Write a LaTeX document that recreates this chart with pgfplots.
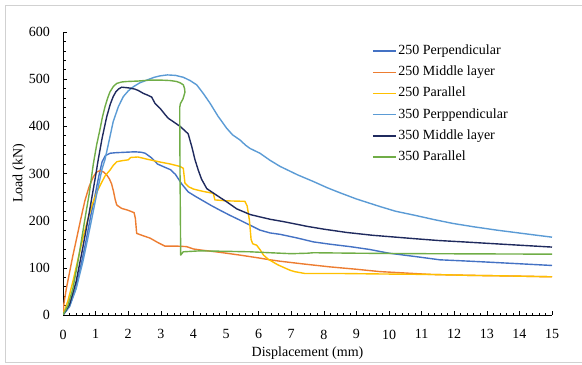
\documentclass[border=0pt]{standalone}
\usepackage{fontspec}
\setmainfont{Liberation Serif}
\usepackage{pgfplots}
\pgfplotsset{compat=1.18}
\definecolor{cBlue}{HTML}{4472C4}
\definecolor{cOrange}{HTML}{ED7D31}
\definecolor{cGold}{HTML}{FFC000}
\definecolor{cLight}{HTML}{5B9BD5}
\definecolor{cNavy}{HTML}{1F2A5E}
\definecolor{cGreen}{HTML}{70AD47}
\begin{document}
\fontsize{14bp}{16bp}\selectfont
\begin{tikzpicture}[font=\fontsize{14bp}{16bp}\selectfont]
\useasboundingbox (0,0) rectangle (582bp,365bp);
\draw[color=black!18, line width=0.8bp] (5.7bp,2.3bp) rectangle (620bp,359.3bp);
\begin{axis}[
  at={(63bp,50bp)}, anchor=south west, scale only axis,
  width=489bp, height=283bp,
  xmin=0, xmax=15, ymin=0, ymax=600,
  axis lines=left, axis line style={-, line width=0.8bp, black},
  xtick={0,1,...,15}, ytick={0,100,...,600},
  minor tick num=4, tick align=inside,
  major tick length=4bp, minor tick length=2.5bp,
  every tick/.style={black, line width=0.6bp},
  /pgf/number format/assume math mode=true,
  yticklabel style={inner sep=0pt, anchor=east, xshift=-13bp},
  xticklabel style={inner sep=0pt, anchor=north, yshift=-14.5bp},
  xlabel={Displacement (mm)}, ylabel={Load (kN)},
  every axis x label/.style={at={(axis description cs:0.5,0)}, anchor=center, yshift=-38bp},
  every axis y label/.style={at={(axis description cs:0,0.5)}, anchor=center, rotate=90, yshift=44bp},
  legend style={at={(axis description cs:0.632,0.954)}, anchor=north west, draw=none, fill=none,
    inner sep=0pt, outer sep=0pt, row sep=9.2bp, column sep=2bp,
    nodes={inner sep=0pt, text height=9.5bp, text depth=2.5bp}},
  legend cell align=left,
  legend image code/.code={\draw[#1] (0bp,0bp) -- (23bp,0bp);},
  every axis plot/.append style={line width=1.4bp, no marks, line join=round},
]
\addplot[cBlue] coordinates {(0,0)(0.2,18)(0.4,58)(0.55,105)(0.7,155)(0.85,210)(0.98,253)(1.1,295)(1.2,325)(1.3,338)(1.45,343)(1.6,344)(1.9,345)(2.2,346)(2.4,345)(2.52,343)(2.62,338)(2.72,333)(2.9,320)(3.13,313)(3.3,308)(3.45,298)(3.64,278)(3.84,261)(4.05,252)(4.3,242)(4.55,232)(4.82,222)(5.1,212)(5.43,201)(5.75,190)(6.04,180)(6.35,174)(6.66,171)(7.2,163)(7.68,155)(8.2,150)(8.8,145)(9.4,139)(10.0,131)(10.8,124)(11.56,117)(12.2,115)(12.79,113)(13.9,109)(15,105)};
\addlegendentry{250 Perpendicular}
\addplot[cOrange] coordinates {(0,0)(0.03,25)(0.1,55)(0.2,90)(0.3,125)(0.42,163)(0.55,205)(0.67,242)(0.8,272)(0.93,293)(1.03,303)(1.13,306)(1.25,303)(1.34,297)(1.42,289)(1.49,278)(1.55,262)(1.6,245)(1.65,233)(1.8,226)(2.0,222)(2.18,217)(2.22,205)(2.26,173)(2.46,168)(2.67,163)(2.9,154)(3.13,146)(3.5,146)(3.79,145)(4.0,140)(4.2,138)(4.8,133)(5.43,127)(6.0,121)(6.35,117)(6.66,114)(7.4,108)(8.19,102)(9.0,97)(9.72,92)(10.5,89)(11.26,86)(12.5,84)(13.5,83)(15,81)};
\addlegendentry{250 Middle layer}
\addplot[cGold] coordinates {(0,0)(0.15,30)(0.3,70)(0.45,115)(0.6,160)(0.75,200)(0.9,235)(1.05,262)(1.2,283)(1.3,296)(1.44,307)(1.55,318)(1.65,325)(1.8,327)(2.0,329)(2.08,334)(2.3,335)(2.6,330)(3.0,324)(3.3,320)(3.59,315)(3.69,311)(3.74,280)(3.85,272)(4.0,267)(4.3,262)(4.61,258)(4.66,244)(5.02,242)(5.58,241)(5.65,231)(5.72,200)(5.77,160)(5.82,151)(5.94,148)(6.05,138)(6.15,127)(6.3,118)(6.6,106)(6.96,95)(7.1,92)(7.42,88)(8.5,88)(9.72,87)(11.26,86)(12.5,84)(13.5,83)(15,81)};
\addlegendentry{250 Parallel}
\addplot[cLight] coordinates {(0,0)(0.2,18)(0.4,55)(0.6,110)(0.75,159)(0.9,210)(1.05,262)(1.2,310)(1.29,330)(1.4,365)(1.54,410)(1.7,442)(1.85,463)(2.0,475)(2.16,484)(2.35,492)(2.57,498)(2.8,504)(2.98,507)(3.2,509)(3.45,508)(3.69,504)(3.9,497)(4.1,488)(4.3,470)(4.51,449)(4.75,422)(5.02,396)(5.2,382)(5.43,371)(5.6,360)(5.74,353)(6.04,343)(6.35,328)(6.66,315)(7.2,297)(7.68,283)(8.1,270)(8.5,259)(9.0,246)(9.72,230)(10.2,220)(10.75,212)(11.4,202)(11.97,194)(12.6,187)(13.3,180)(14.2,172)(15,165)};
\addlegendentry{350 Perppendicular}
\addplot[cNavy] coordinates {(0,0)(0.2,22)(0.4,70)(0.6,140)(0.8,215)(1.0,295)(1.08,329)(1.2,375)(1.34,420)(1.45,447)(1.54,463)(1.62,473)(1.7,479)(1.8,483)(1.95,482)(2.06,481)(2.2,479)(2.31,476)(2.46,470)(2.6,466)(2.72,462)(2.82,449)(2.98,438)(3.13,425)(3.23,417)(3.38,410)(3.59,400)(3.75,390)(3.84,384)(3.95,357)(4.05,329)(4.15,307)(4.25,288)(4.41,268)(4.71,254)(5.02,240)(5.33,225)(5.74,213)(6.04,208)(6.35,203)(6.76,198)(7.27,191)(7.48,188)(8.0,182)(8.7,175)(9.5,169)(10.75,162)(11.5,158)(12.28,155)(13.5,150)(15,144)};
\addlegendentry{350 Middle layer}
\addplot[cGreen] coordinates {(0,0)(0.15,20)(0.3,55)(0.45,110)(0.57,160)(0.7,215)(0.8,255)(0.93,320)(1.03,360)(1.13,392)(1.21,420)(1.29,442)(1.37,460)(1.44,473)(1.55,485)(1.65,491)(1.8,494)(1.95,495)(2.3,496)(2.67,498)(3.0,498)(3.3,497)(3.49,495)(3.6,492)(3.69,488)(3.73,480)(3.74,472)(3.68,458)(3.6,448)(3.58,440)(3.59,300)(3.61,127)(3.69,134)(4.2,136)(5.0,135)(5.74,134)(6.35,132)(7.0,130)(7.5,131)(7.68,132)(9,131)(11,130)(13,129.5)(15,129)};
\addlegendentry{350 Parallel}
\end{axis}
\end{tikzpicture}
\end{document}
